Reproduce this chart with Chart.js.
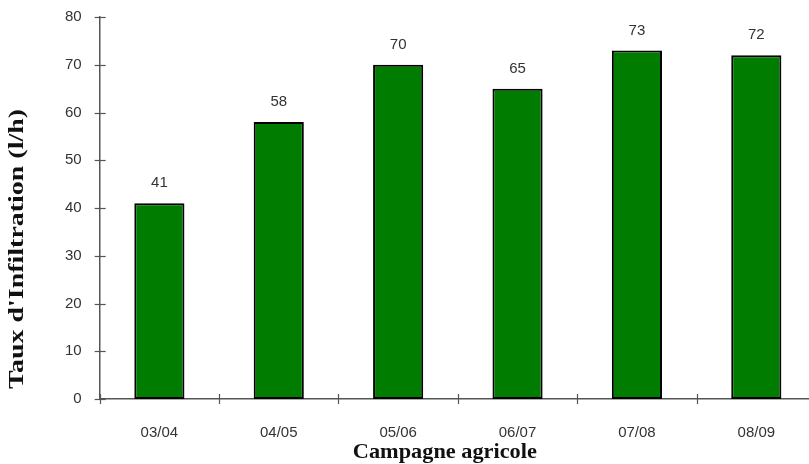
<!DOCTYPE html>
<html>
<head>
<meta charset="utf-8">
<script src="https://cdn.jsdelivr.net/npm/chart.js@4/dist/chart.umd.min.js"></script>
<style>
  html, body { margin: 0; padding: 0; background: #fff; overflow: hidden; }
  #wrap { width: 818px; height: 474px; margin-top: -10px; }
</style>
</head>
<body>
<div id="wrap"><canvas id="c"></canvas></div>
<script>
// Infiltration rate per agricultural season
const campagnes = ['03/04', '04/05', '05/06', '06/07', '07/08', '08/09'];
const tauxInfiltration = [41, 58, 70, 65, 73, 72];
const yTicks = [0, 10, 20, 30, 40, 50, 60, 70, 80];

const xTitle = 'Campagne agricole';
const yTitle = "Taux d'Infiltration (l/h)";

const axisColor = '#555555';
const titleFont = 'bold 21px "Times New Roman", "Liberation Serif", serif';

// Draws a string stretched to a given length along its baseline
function stretchedText(ctx, text, cx, cy, length, angle) {
  ctx.save();
  ctx.translate(cx, cy);
  ctx.rotate(angle);
  ctx.font = titleFont;
  const w = ctx.measureText(text).width;
  ctx.scale(length / w, 1);
  ctx.textAlign = 'center';
  ctx.textBaseline = 'middle';
  ctx.fillStyle = '#111111';
  ctx.fillText(text, 0, 0);
  ctx.restore();
}

// Tick marks that cross the axis lines, value labels above the bars, axis titles
const decorations = {
  id: 'decorations',
  afterDraw(chart) {
    const ctx = chart.ctx;
    const x = chart.scales.x, y = chart.scales.y;
    ctx.save();
    ctx.strokeStyle = axisColor;
    ctx.lineWidth = 1.2;
    yTicks.forEach(v => {
      const py = Math.round(y.getPixelForValue(v)) + 0.5;
      ctx.beginPath();
      ctx.moveTo(x.left - 5, py);
      ctx.lineTo(x.left + 6, py);
      ctx.stroke();
    });
    for (let i = 0; i <= campagnes.length; i++) {
      const px = Math.round(x.getPixelForValue(i - 0.5)) + 0.5;
      ctx.beginPath();
      ctx.moveTo(px, y.bottom - 5);
      ctx.lineTo(px, y.bottom + 5);
      ctx.stroke();
    }
    ctx.fillStyle = '#333333';
    ctx.font = '15px Arial, "Liberation Sans", sans-serif';
    ctx.textAlign = 'center';
    ctx.textBaseline = 'middle';
    chart.getDatasetMeta(0).data.forEach((bar, i) => {
      ctx.fillText(String(tauxInfiltration[i]), bar.x, bar.y - 20);
    });
    ctx.restore();

    stretchedText(ctx, xTitle, x.left - 13 + (x.right - x.left) / 2, y.bottom + 54, 184, 0);
    stretchedText(ctx, yTitle, 18, y.bottom - 150, 280, -Math.PI / 2);
  }
};

new Chart(document.getElementById('c'), {
  type: 'bar',
  data: {
    labels: campagnes,
    datasets: [{
      data: tauxInfiltration,
      backgroundColor: '#007d00',
      borderColor: '#000000',
      borderWidth: 2,
      borderSkipped: false,
      categoryPercentage: 0.42,
      barPercentage: 1.0
    }]
  },
  options: {
    responsive: true,
    maintainAspectRatio: false,
    animation: false,
    layout: { padding: { top: -1, right: 2, bottom: -3, left: 47 } },
    plugins: {
      legend: { display: false },
      tooltip: { enabled: false }
    },
    scales: {
      x: {
        offset: true,
        grid: { display: false, drawTicks: false },
        border: { display: true, color: axisColor, width: 1.5 },
        ticks: {
          color: '#333333',
          padding: 25,
          font: { family: 'Arial, "Liberation Sans", sans-serif', size: 15 }
        }
      },
      y: {
        min: 0,
        max: 80,
        grid: { display: false, drawTicks: false },
        border: { display: true, color: axisColor, width: 1.5 },
        ticks: {
          stepSize: 10,
          color: '#333333',
          padding: 18,
          font: { family: 'Arial, "Liberation Sans", sans-serif', size: 15 }
        }
      }
    }
  },
  plugins: [decorations]
});
</script>
</body>
</html>
